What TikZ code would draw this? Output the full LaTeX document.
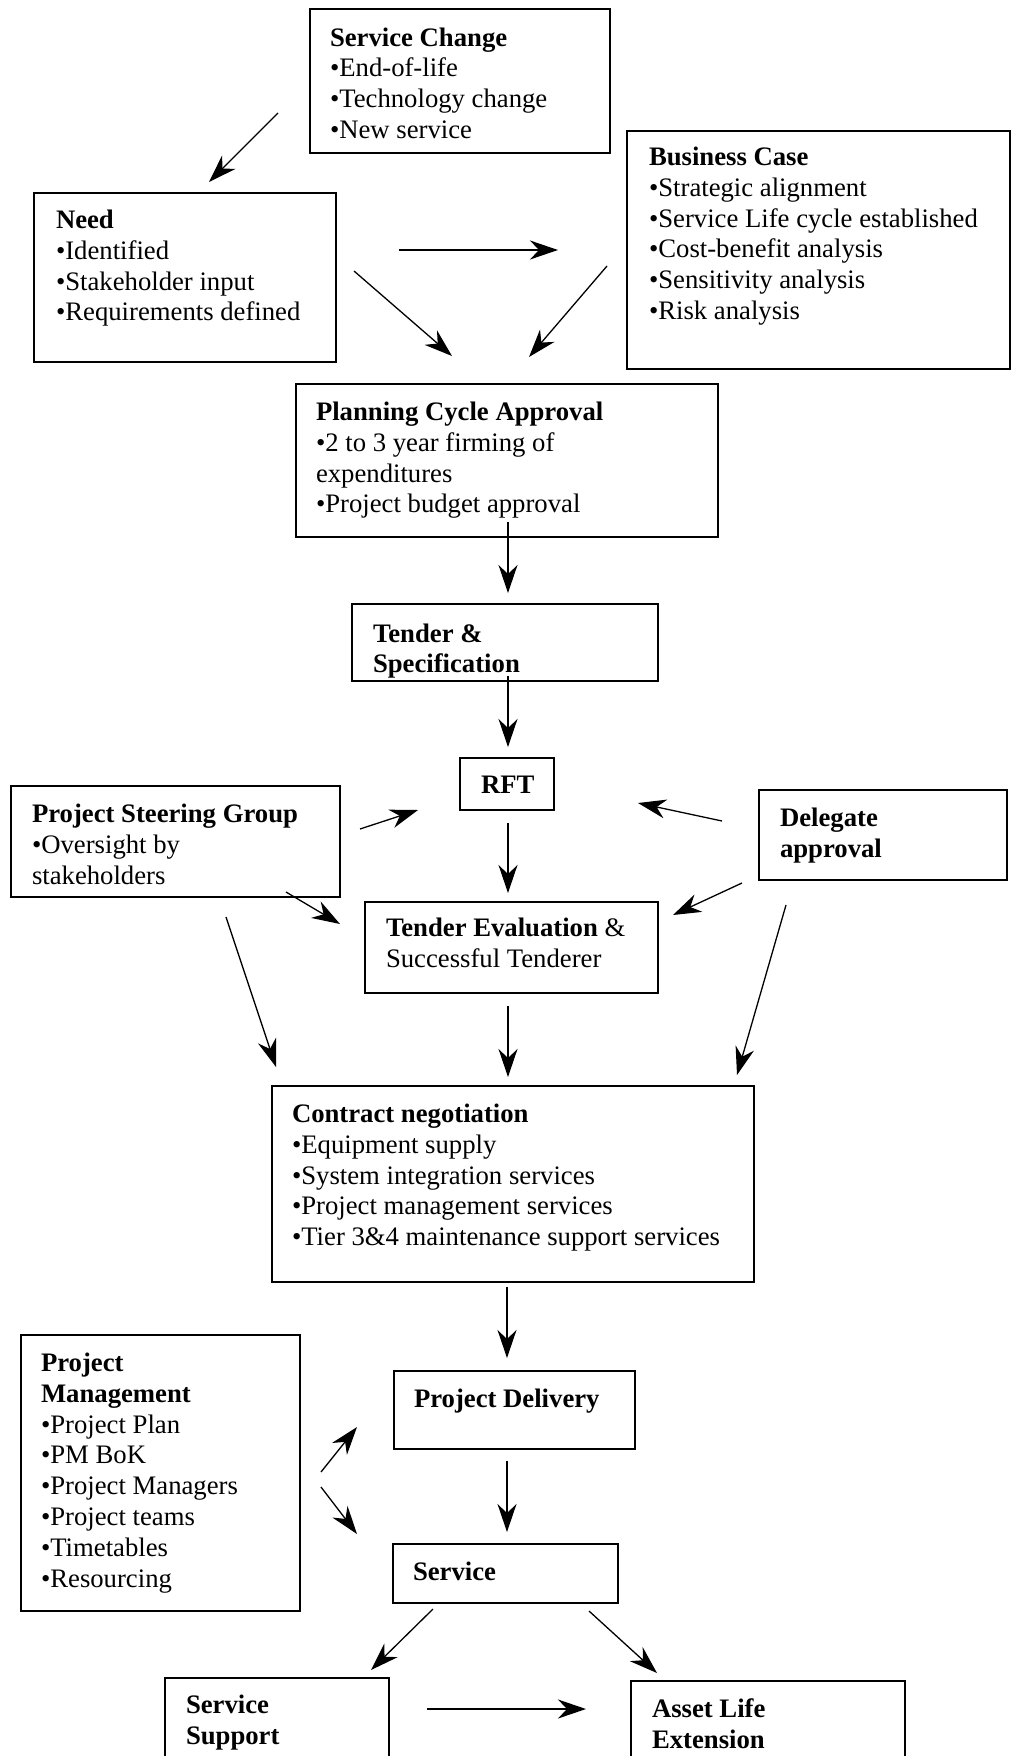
\documentclass[tikz,border=0pt]{standalone}
\usepackage{fontspec}
\setmainfont{Liberation Serif}
\usetikzlibrary{arrows.meta}
\tikzset{
  box/.style={draw, line width=1.8pt, rectangle, anchor=north west, inner sep=0pt, outer sep=0pt},
  txt/.style={anchor=base west, inner sep=0pt, outer sep=0pt,
    font=\fontsize{26.7}{30.8}\selectfont},
  conn/.style={line width=1.3pt, -{Stealth[length=28pt, width=19pt, inset=9pt]}},
  thickconn/.style={conn, line width=2pt},
}
\newcommand{\mkbox}[5]{\node[box, minimum width=#4pt-#2pt, minimum height=#5pt-#3pt] (#1) at (#2,#3) {};}
\newcommand{\lines}[1]{\begin{tabular}[t]{@{}l@{}}#1\end{tabular}}
\begin{document}
\begin{tikzpicture}[x=1pt,y=-1pt]
\clip (0,0) rectangle (1012,1756);
\fill[white] (0,0) rectangle (1012,1756);
% boxes
\mkbox{sc}{310}{9}{610}{153}
\mkbox{need}{34}{193}{336}{362}
\mkbox{bc}{627}{131}{1010}{369}
\mkbox{pca}{296}{384}{718}{537}
\mkbox{ts}{352}{604}{658}{681}
\mkbox{rft}{460}{758}{554}{810}
\mkbox{psg}{11}{786}{340}{897}
\mkbox{del}{759}{790}{1007}{880}
\mkbox{te}{365}{902}{658}{993}
\mkbox{cn}{272}{1086}{754}{1282}
\mkbox{pm}{21}{1335}{300}{1611}
\mkbox{pd}{394}{1371}{635}{1449}
\mkbox{svc}{393}{1544}{618}{1603}
\mkbox{ss}{165}{1678}{389}{1800}
\mkbox{ale}{631}{1681}{905}{1800}
% texts
\node[txt] (sct) at (330,46) {\lines{\textbf{Service Change}\\•End-of-life\\•Technology change\\•New service}};
\node[txt] (needt) at (56,228.5) {\lines{\textbf{Need}\\•Identified\\•Stakeholder input\\•Requirements defined}};
\node[txt] (bct) at (649,165.5) {\lines{\textbf{Business Case}\\•Strategic alignment\\•Service Life cycle established\\•Cost-benefit analysis\\•Sensitivity analysis\\•Risk analysis}};
\node[txt] (pcat) at (316,420.5) {\lines{\textbf{Planning Cycle Approval}\\•2 to 3 year firming of\\expenditures\\•Project budget approval}};
\begin{scope}
\clip (ts.south west) rectangle (ts.north east);
\node[txt] (tst) at (373,642) {\lines{\textbf{Tender \&}\\\textbf{Specification}}};
\end{scope}
\node[txt] (rftt) at (481,793.5) {\textbf{RFT}};
\node[txt] (psgt) at (32,822.5) {\lines{\textbf{Project Steering Group}\\•Oversight by\\stakeholders}};
\node[txt] (delt) at (780,826.5) {\lines{\textbf{Delegate}\\\textbf{approval}}};
\node[txt] (tet) at (386,936.5) {\lines{\textbf{Tender Evaluation} \&\\Successful Tenderer}};
\node[txt] (cnt) at (292,1122.5) {\lines{\textbf{Contract negotiation}\\•Equipment supply\\•System integration services\\•Project management services\\•Tier 3\&4 maintenance support services}};
\node[txt] (pmt) at (41,1371.5) {\lines{\textbf{Project}\\\textbf{Management}\\•Project Plan\\•PM BoK\\•Project Managers\\•Project teams\\•Timetables\\•Resourcing}};
\node[txt] (pdt) at (414,1407.5) {\textbf{Project Delivery}};
\node[txt] (svct) at (413,1580.5) {\textbf{Service}};
\node[txt] (sst) at (186,1713.5) {\lines{\textbf{Service}\\\textbf{Support}}};
\node[txt] (alet) at (652,1717.5) {\lines{\textbf{Asset Life}\\\textbf{Extension}}};
% connector end points
\coordinate (a1s) at (278,113);  \coordinate (a1e) at (209,182);
\coordinate (a2s) at (399,250);  \coordinate (a2e) at (558,250);
\coordinate (a3s) at (354,271);  \coordinate (a3e) at (452,356);
\coordinate (a4s) at (607,266);  \coordinate (a4e) at (529,357);
\coordinate (a5s) at (508,522);  \coordinate (a5e) at (508,593);
\coordinate (a6s) at (508,676);  \coordinate (a6e) at (508,747);
\coordinate (a7s) at (360,829);  \coordinate (a7e) at (418,810);
\coordinate (a8s) at (722,821);  \coordinate (a8e) at (638,803);
\coordinate (a9s) at (508,823);  \coordinate (a9e) at (508,893);
\coordinate (a10s) at (286,892); \coordinate (a10e) at (340,924);
\coordinate (a11s) at (742,883); \coordinate (a11e) at (673,915);
\coordinate (a12s) at (226,917); \coordinate (a12e) at (276,1067);
\coordinate (a13s) at (508,1006);\coordinate (a13e) at (508,1077);
\coordinate (a14s) at (786,905); \coordinate (a14e) at (737,1075);
\coordinate (a15s) at (507,1287);\coordinate (a15e) at (507,1358);
\coordinate (a16s) at (321,1472);\coordinate (a16e) at (357,1427);
\coordinate (a17s) at (321,1487);\coordinate (a17e) at (357,1534);
\coordinate (a18s) at (507,1461);\coordinate (a18e) at (507,1532);
\coordinate (a19s) at (433,1609);\coordinate (a19e) at (371,1670);
\coordinate (a20s) at (589,1611);\coordinate (a20e) at (657,1673);
\coordinate (a21s) at (427,1709);\coordinate (a21e) at (586,1709);
% connectors
\draw[conn] (a1s) -- (a1e);
\draw[thickconn] (a2s) -- (a2e);
\draw[conn] (a3s) -- (a3e);
\draw[conn] (a4s) -- (a4e);
\draw[conn] (a5s) -- (a5e);
\draw[conn] (a6s) -- (a6e);
\draw[conn] (a7s) -- (a7e);
\draw[conn] (a8s) -- (a8e);
\draw[conn] (a9s) -- (a9e);
\draw[conn] (a10s) -- (a10e);
\draw[conn] (a11s) -- (a11e);
\draw[conn] (a12s) -- (a12e);
\draw[conn] (a13s) -- (a13e);
\draw[conn] (a14s) -- (a14e);
\draw[conn] (a15s) -- (a15e);
\draw[conn] (a16s) -- (a16e);
\draw[conn] (a17s) -- (a17e);
\draw[conn] (a18s) -- (a18e);
\draw[conn] (a19s) -- (a19e);
\draw[conn] (a20s) -- (a20e);
\draw[thickconn] (a21s) -- (a21e);
\end{tikzpicture}
\end{document}
